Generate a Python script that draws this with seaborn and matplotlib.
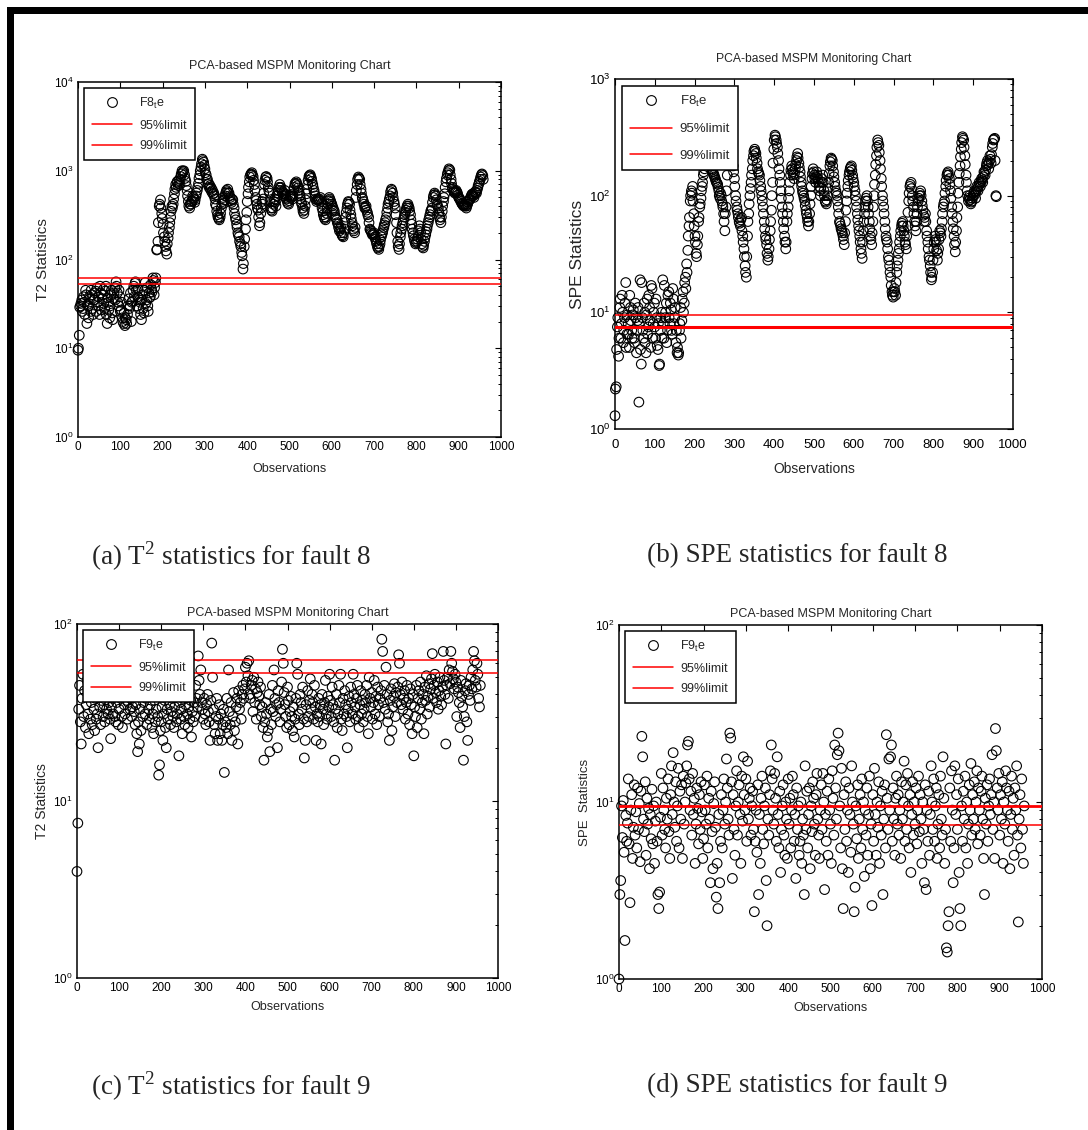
import numpy as np
import matplotlib
matplotlib.use("Agg")
import matplotlib.pyplot as plt
import seaborn as sns
from matplotlib.lines import Line2D
from matplotlib.patches import Rectangle
from matplotlib.ticker import LogLocator, LogFormatterMathtext, NullFormatter

# ---------------- data ----------------
obs_step_f8 = 3      # fault-8 lists: observations 0,3,6,...  (second list: 1,4,7,...)
obs_step_f9 = 2      # fault-9 lists: observations 0,2,4,...

t2_fault8 = [
    9.5, 14, 30, 35, 28, 33, 45, 19, 30, 38, 26, 40, 24, 35, 44, 48, 30, 24, 42, 36,
    46, 28, 50, 19, 33, 22, 40, 25, 36, 48, 56, 42, 30, 38, 27, 22, 19, 18, 21, 24,
    36, 30, 20, 34, 50, 54, 45, 38, 28, 33, 21, 40, 25, 55, 35, 30, 42, 38, 46, 62,
    40, 55, 128, 160, 400, 470, 330, 250, 180, 140, 115, 175, 230, 300, 400, 420, 550, 700, 740, 680,
    800, 860, 1000, 980, 900, 760, 600, 450, 380, 420, 460, 500, 440, 520, 600, 720, 900, 1100, 1350, 1250,
    1050, 900, 800, 720, 680, 640, 600, 560, 480, 400, 320, 290, 300, 380, 450, 430, 520, 600, 620, 560,
    500, 440, 470, 380, 300, 250, 200, 180, 150, 120, 78, 140, 220, 340, 550, 750, 900, 950, 860, 700,
    500, 420, 360, 240, 330, 450, 480, 700, 850, 820, 650, 560, 380, 350, 420, 480, 400, 520, 600, 700,
    650, 580, 520, 600, 500, 450, 420, 500, 540, 480, 600, 720, 750, 680, 600, 520, 440, 380, 330, 400,
    550, 700, 860, 900, 820, 700, 600, 520, 450, 480, 460, 500, 420, 350, 300, 280, 330, 420, 500, 460,
    420, 380, 350, 300, 280, 250, 210, 230, 190, 180, 220, 300, 380, 450, 420, 320, 260, 220, 200, 500,
    700, 850, 800, 620, 500, 450, 380, 400, 340, 300, 220, 210, 190, 200, 180, 160, 140, 130, 150, 180,
    200, 230, 260, 300, 380, 450, 520, 620, 560, 450, 380, 260, 160, 130, 180, 220, 260, 300, 340, 380,
    420, 380, 320, 250, 200, 170, 150, 160, 180, 240, 200, 150, 135, 160, 190, 220, 260, 300, 350, 380,
    500, 560, 520, 420, 380, 300, 260, 350, 450, 550, 750, 900, 1000, 1020, 800, 650, 600, 560, 600, 560,
    500, 480, 450, 420, 400, 420, 380, 420, 460, 480, 520, 550, 500, 580, 560, 640, 720, 800, 900, 880,
]

t2_fault8_b = [
    10, 29, 32, 26, 38, 24, 40, 31, 22, 36, 45, 28, 35, 42, 26, 33, 38, 50, 27, 40,
    32, 44, 24, 37, 27, 30, 45, 21, 42, 35, 50, 33, 45, 26, 33, 20, 25, 22, 19, 30,
    28, 42, 33, 45, 38, 56, 30, 46, 35, 24, 35, 28, 45, 32, 48, 26, 37, 52, 43, 58,
    48, 62, 130, 260, 420, 380, 290, 200, 160, 125, 150, 200, 260, 350, 380, 480, 620, 650, 760, 720,
    700, 920, 950, 1000, 820, 680, 520, 400, 420, 450, 520, 480, 470, 560, 650, 820, 1000, 1200, 1300, 1150,
    950, 800, 700, 650, 620, 580, 550, 520, 420, 350, 300, 280, 330, 420, 500, 470, 560, 580, 560, 520,
    460, 480, 420, 330, 280, 230, 190, 160, 140, 110, 90, 170, 280, 450, 650, 850, 920, 900, 780, 600,
    460, 380, 300, 260, 380, 420, 560, 780, 860, 750, 600, 450, 360, 380, 450, 440, 470, 560, 650, 640,
    600, 550, 560, 540, 480, 430, 460, 520, 500, 520, 650, 700, 720, 640, 560, 480, 420, 350, 360, 470,
    620, 780, 880, 860, 760, 650, 560, 480, 470, 470, 480, 450, 380, 320, 290, 300, 380, 460, 480, 440,
    400, 360, 320, 290, 260, 230, 220, 200, 185, 200, 260, 340, 420, 440, 360, 290, 240, 210, 230, 600,
    800, 820, 700, 560, 480, 420, 390, 360, 320, 260, 215, 200, 195, 190, 170, 150, 135, 140, 165, 190,
    215, 245, 280, 340, 420, 480, 580, 600, 500, 420, 320, 200, 140, 150, 200, 240, 280, 320, 360, 400,
    400, 350, 280, 220, 185, 160, 155, 170, 210, 220, 170, 140, 145, 175, 205, 240, 280, 320, 360, 440,
    530, 540, 470, 400, 340, 280, 300, 400, 500, 650, 820, 950, 1050, 900, 720, 620, 580, 580, 580, 530,
    490, 460, 430, 410, 410, 400, 400, 440, 470, 500, 540, 520, 540, 570, 600, 680, 760, 850, 920, 800,
]

spe_fault8 = [
    1.3, 2.3, 7.5, 4.2, 11, 6, 14, 5.5, 9, 18, 6.5, 8, 5, 11, 7, 9.5, 6, 12, 4.5, 8.5,
    1.7, 19, 3.6, 9, 6, 10, 4.5, 13, 7.5, 11, 5, 16, 8, 12, 6, 9, 4.8, 3.5, 7, 10,
    19, 6, 9, 12, 7, 15, 8, 10.5, 6.5, 13, 9, 5.5, 4.5, 4.3, 7, 11, 8.5, 15, 12, 20,
    26, 34, 55, 90, 110, 120, 70, 45, 32, 38, 60, 80, 95, 120, 150, 170, 200, 230, 250, 220,
    190, 170, 160, 150, 140, 130, 125, 110, 95, 100, 85, 70, 50, 80, 150, 220, 280, 300, 250, 180,
    140, 100, 80, 70, 60, 55, 65, 45, 35, 25, 20, 45, 70, 100, 130, 170, 220, 250, 230, 190,
    160, 150, 120, 100, 80, 60, 45, 38, 28, 35, 50, 75, 130, 250, 330, 300, 260, 200, 150, 110,
    80, 60, 45, 35, 60, 80, 110, 150, 180, 160, 140, 170, 200, 230, 190, 160, 130, 110, 100, 90,
    75, 65, 55, 70, 100, 140, 170, 150, 130, 160, 140, 120, 100, 130, 150, 110, 90, 85, 100, 130,
    180, 210, 200, 160, 130, 110, 100, 80, 60, 55, 50, 45, 38, 60, 90, 120, 150, 170, 180, 150,
    130, 110, 90, 70, 55, 45, 35, 29, 50, 70, 90, 100, 80, 60, 45, 38, 60, 100, 150, 220,
    300, 270, 200, 140, 100, 80, 60, 45, 40, 30, 25, 20, 15, 13.5, 16, 14, 22, 28, 35, 45,
    55, 60, 50, 40, 35, 55, 90, 120, 130, 100, 80, 60, 50, 70, 90, 100, 110, 90, 75, 60,
    70, 50, 40, 30, 25, 19, 22, 35, 45, 40, 28, 35, 50, 45, 60, 80, 90, 120, 150, 160,
    140, 110, 80, 60, 45, 33, 50, 80, 130, 180, 250, 320, 300, 220, 150, 110, 90, 100, 85, 90,
    100, 110, 95, 120, 110, 130, 120, 140, 130, 160, 150, 180, 200, 170, 220, 190, 260, 300, 310, 100,
]

spe_fault8_b = [
    2.2, 4.8, 9, 6, 13, 8, 10, 7, 12, 5, 9.5, 6.5, 14, 8.5, 6, 10.5, 5.5, 9, 7, 11,
    8, 4.8, 18, 7, 12, 5.5, 9.5, 6.5, 14, 8.5, 17, 6, 10, 7.5, 13, 5.2, 8, 3.6, 9, 6,
    8, 17, 10, 5.5, 14, 9, 12, 7, 16, 8, 11, 7, 5, 4.5, 8, 6, 13, 10, 18, 16,
    22, 45, 65, 100, 105, 90, 55, 40, 30, 45, 65, 85, 110, 130, 160, 190, 210, 240, 230, 200,
    180, 165, 155, 145, 135, 128, 118, 100, 105, 90, 80, 60, 70, 110, 180, 260, 290, 280, 210, 160,
    120, 90, 75, 65, 58, 62, 50, 40, 30, 22, 30, 60, 85, 115, 150, 200, 240, 240, 210, 170,
    155, 135, 110, 90, 70, 52, 42, 32, 30, 42, 60, 100, 190, 300, 320, 280, 230, 170, 130, 95,
    70, 52, 40, 40, 70, 95, 130, 165, 170, 150, 155, 185, 215, 210, 175, 145, 120, 105, 95, 82,
    70, 60, 60, 85, 120, 155, 160, 140, 145, 150, 130, 110, 115, 140, 130, 100, 88, 92, 115, 155,
    195, 205, 180, 145, 120, 105, 90, 70, 58, 52, 48, 42, 48, 75, 105, 135, 160, 175, 165, 140,
    120, 100, 80, 62, 50, 40, 32, 40, 60, 80, 95, 90, 70, 52, 42, 48, 80, 125, 185, 260,
    285, 235, 170, 120, 90, 70, 52, 42, 35, 28, 22, 17, 14, 15, 15, 18, 25, 32, 40, 50,
    58, 55, 45, 38, 45, 72, 105, 125, 115, 90, 70, 55, 60, 80, 95, 105, 100, 82, 68, 65,
    60, 45, 35, 28, 22, 20, 28, 40, 42, 34, 32, 42, 48, 52, 70, 85, 105, 135, 155, 150,
    125, 95, 70, 52, 38, 40, 65, 105, 155, 215, 285, 310, 260, 185, 130, 100, 95, 92, 88, 95,
    105, 102, 108, 115, 120, 125, 130, 135, 145, 155, 165, 190, 185, 195, 205, 225, 280, 305, 200, 98,
]

t2_fault9 = [
    4.0, 7.5, 33, 45, 28, 21, 38, 52, 30, 42, 26, 35, 48, 31, 24, 40, 29, 36, 27, 44,
    33, 25, 38, 29, 31, 20, 41, 34, 27, 37, 46, 30, 35, 28, 39, 33, 43, 31, 36, 29,
    22.5, 34, 38, 31, 44, 30, 28, 36, 40, 27, 33, 45, 38, 30, 26, 42, 35, 31, 48, 37,
    29, 36, 41, 33, 38, 30, 34, 44, 32, 27, 35, 24, 19, 28, 21, 33, 25, 40, 30, 36,
    43, 31, 38, 27, 46, 33, 29, 35, 40, 26, 31, 24, 37, 28, 33, 42, 30, 14, 16, 25,
    28, 34, 22, 31, 37, 26, 20, 33, 29, 41, 35, 27, 32, 38, 30, 26, 34, 39, 28, 31,
    44, 18, 36, 29, 33, 24, 38, 30, 27, 35, 42, 31, 26, 34, 29, 37, 23, 32, 28, 36,
    30, 45, 38, 34, 66, 48, 40, 55, 36, 33, 29, 38, 31, 27, 35, 40, 32, 28, 22, 37,
    78, 50, 33, 27, 24, 30, 38, 22, 29, 35, 24, 31, 22, 27, 33, 14.5, 28, 26, 38, 24,
    55, 32, 27, 36, 22, 30, 41, 25, 28, 34, 38, 21, 42, 33, 36, 29, 40, 45, 38, 43,
    57, 47, 60, 51, 62, 40, 38, 45, 48, 32, 50, 36, 43, 29, 41, 47, 39, 35, 44, 30,
    34, 26, 17, 28, 36, 31, 23, 25, 40, 19, 33, 27, 45, 32, 55, 38, 30, 35, 20, 42,
    36, 28, 33, 47, 72, 60, 41, 35, 30, 26, 44, 37, 27, 32, 39, 30, 25, 34, 23, 29,
    38, 60, 52, 31, 27, 40, 36, 33, 44, 29, 17.5, 22, 35, 28, 42, 30, 37, 49, 33, 40,
    36, 29, 45, 34, 22, 31, 28, 38, 30, 35, 21, 40, 33, 27, 36, 48, 31, 29, 39, 34,
    52, 37, 30, 44, 35, 28, 17, 33, 40, 26, 31, 45, 36, 52, 29, 25, 38, 31, 42, 35,
    30, 20, 33, 39, 28, 44, 36, 31, 52, 40, 34, 29, 38, 45, 30, 26, 35, 42, 31, 37,
    28, 33, 40, 36, 45, 30, 24, 50, 38, 34, 41, 29, 36, 48, 31, 39, 27, 44, 35, 30,
    38, 42, 82, 70, 36, 45, 33, 57, 40, 28, 31, 22, 37, 43, 25, 34, 39, 46, 30, 41,
    36, 44, 67, 60, 40, 35, 47, 33, 38, 42, 29, 36, 45, 31, 38, 27, 43, 35, 24, 40,
    18, 34, 30, 45, 26, 38, 42, 33, 47, 29, 36, 40, 24, 44, 37, 51, 31, 39, 46, 34,
    43, 49, 68, 38, 45, 52, 41, 36, 47, 33, 42, 50, 39, 35, 44, 70, 48, 40, 21, 45,
    50, 38, 55, 46, 70, 60, 54, 49, 43, 52, 47, 30, 44, 41, 36, 26, 48, 39, 34, 17,
    30, 42, 46, 28, 22, 40, 45, 37, 50, 43, 55, 70, 62, 48, 44, 60, 52, 38, 34, 45,
]

spe_fault9 = [
    1.0, 3.0, 3.6, 9.5, 6.3, 10.2, 5.2, 1.65, 8.4, 6.0, 7.6, 13.5, 5.8, 2.7, 9.0, 11.0, 4.8, 7.2, 12.5, 6.5,
    8.8, 5.5, 12.0, 7.0, 9.8, 4.6, 11.5, 23.5, 18.0, 8.0, 6.8, 13.0, 5.0, 10.5, 7.5, 9.2, 4.2, 8.5, 6.2, 11.8,
    5.8, 9.5, 4.5, 7.8, 10.0, 6.0, 3.0, 2.5, 3.1, 8.2, 14.5, 6.5, 12.0, 9.0, 7.0, 5.5, 10.5, 8.0, 13.5, 6.8,
    4.8, 11.0, 16.0, 8.5, 19.0, 10.0, 7.2, 13.0, 6.0, 9.5, 15.5, 5.5, 11.5, 8.0, 12.5, 4.8, 14.0, 7.5, 10.0, 12.8,
    16.0, 21.0, 22.0, 13.5, 9.0, 11.5, 6.5, 14.5, 8.5, 10.5, 4.5, 7.5, 12.0, 9.2, 5.8, 11.0, 7.0, 13.0, 8.8, 4.8,
    6.2, 12.5, 9.0, 7.5, 14.0, 5.5, 10.5, 8.0, 3.5, 11.5, 6.8, 4.2, 9.8, 13.0, 7.2, 2.9, 4.5, 2.5, 8.5, 3.5,
    6.0, 11.0, 5.5, 9.0, 13.5, 7.5, 10.0, 17.5, 12.0, 8.0, 6.5, 24.5, 23.0, 13.0, 3.7, 11.0, 7.0, 5.0, 9.5, 15.0,
    6.5, 10.0, 12.5, 8.5, 4.5, 14.0, 7.8, 18.0, 11.0, 9.0, 13.5, 6.0, 17.0, 8.0, 10.5, 12.0, 6.5, 9.5, 11.5, 7.0,
    2.4, 6.0, 9.0, 5.2, 12.5, 3.0, 8.5, 4.5, 10.5, 14.0, 7.0, 5.8, 9.5, 12.0, 3.6, 2.0, 8.0, 6.5, 11.0, 15.0,
    21.0, 13.5, 9.0, 7.5, 14.5, 10.5, 6.0, 18.0, 8.5, 5.5, 11.5, 4.0, 7.0, 9.5, 12.5, 6.5, 5.0, 10.0, 8.0, 4.8,
    13.5, 7.5, 10.5, 5.5, 9.0, 14.0, 11.0, 6.0, 8.5, 3.7, 12.0, 7.0, 9.5, 5.0, 6.0, 10.0, 4.5, 8.0, 6.5, 3.0,
    16.0, 7.0, 11.5, 5.5, 8.5, 12.0, 4.2, 9.5, 6.8, 13.0, 10.5, 7.5, 5.0, 11.0, 14.5, 8.0, 6.5, 4.8, 9.0, 12.5,
    7.0, 14.5, 10.0, 3.2, 8.5, 6.0, 11.5, 5.0, 13.5, 9.0, 7.5, 4.5, 15.0, 10.5, 6.5, 21.0, 12.0, 8.0, 18.5, 24.5,
    19.5, 9.5, 5.5, 15.5, 4.2, 2.5, 11.0, 7.0, 13.0, 6.0, 9.0, 4.0, 12.0, 8.5, 5.2, 16.0, 10.0, 7.5, 2.4, 3.3,
    9.5, 6.2, 12.5, 4.8, 8.0, 11.0, 5.5, 13.5, 7.0, 10.0, 3.8, 9.0, 6.5, 12.0, 5.0, 8.5, 14.0, 4.2, 7.5, 2.6,
    11.0, 6.0, 15.5, 8.5, 5.0, 10.0, 7.2, 13.0, 4.5, 9.5, 6.5, 11.5, 3.0, 8.0, 12.5, 5.5, 24.0, 10.5, 7.0, 17.5,
    9.0, 18.0, 21.0, 6.0, 12.0, 8.0, 5.0, 10.5, 14.0, 7.5, 11.0, 6.5, 9.0, 4.8, 13.0, 8.0, 10.0, 17.0, 6.0, 12.5,
    7.0, 14.5, 9.5, 5.5, 11.0, 4.0, 8.5, 13.0, 6.5, 10.0, 7.5, 12.0, 5.8, 9.0, 14.0, 6.8, 11.0, 8.0, 4.5, 10.0,
    7.0, 3.5, 12.5, 3.2, 9.0, 6.0, 11.5, 5.0, 8.5, 16.0, 10.0, 7.0, 13.5, 6.0, 9.5, 12.0, 4.8, 7.5, 11.0, 5.5,
    14.0, 8.0, 6.5, 18.0, 10.5, 4.5, 7.0, 1.5, 1.42, 2.0, 2.4, 12.0, 6.0, 15.0, 9.0, 3.5, 5.5, 16.0, 8.5, 11.0,
    7.0, 13.5, 4.0, 2.5, 2.0, 9.5, 6.0, 11.5, 8.0, 14.0, 5.5, 10.0, 4.5, 7.5, 12.5, 9.0, 16.5, 6.5, 11.0, 8.0,
    13.0, 7.0, 10.0, 15.0, 5.8, 12.0, 9.0, 6.5, 11.5, 14.0, 8.0, 4.8, 3.0, 10.5, 7.5, 12.5, 6.0, 9.5, 13.5, 8.5,
    11.0, 18.5, 7.0, 10.0, 4.8, 26.0, 19.5, 12.0, 9.0, 14.5, 6.5, 11.0, 8.0, 13.0, 4.5, 10.0, 7.5, 15.0, 12.0, 9.0,
    6.0, 11.5, 4.2, 8.5, 14.0, 7.0, 10.5, 5.0, 12.0, 9.0, 16.0, 6.5, 2.1, 8.0, 11.0, 5.5, 13.5, 7.0, 4.5, 9.5,
]

limits_t2_f8 = [53.5, 62.0]     # 95%, 99%
limits_spe_f8 = [7.5, 9.4]
limits_t2_f9 = [53.0, 62.5]
limits_spe_f9 = [7.4, 9.45]

x_ticks = [0, 100, 200, 300, 400, 500, 600, 700, 800, 900, 1000]
legend_names = ["95%limit", "99%limit"]
chart_title = "PCA-based MSPM Monitoring Chart"
captions = ["(a) T$^\\mathregular{2}$ statistics for fault 8",
            "(b) SPE statistics for fault 8",
            "(c) T$^\\mathregular{2}$ statistics for fault 9",
            "(d) SPE statistics for fault 9"]

# ---------------- styling ----------------
sns.set_style("white")
plt.rcParams["font.family"] = ["Liberation Sans", "DejaVu Sans"]
plt.rcParams["mathtext.fontset"] = "custom"
plt.rcParams["mathtext.rm"] = "Liberation Sans"
plt.rcParams["mathtext.it"] = "Liberation Sans:italic"
plt.rcParams["mathtext.bf"] = "Liberation Sans:bold"

W, H = 1088, 1130
fig = plt.figure(figsize=(W / 100, H / 100), dpi=100)
fig.patch.set_facecolor("white")


def fpos(l, t, r, b):
    return [l / W, 1 - b / H, (r - l) / W, (b - t) / H]


def series(step, *lists):
    xs, ys = [], []
    for k, lst in enumerate(lists):
        v = np.asarray(lst, dtype=float)
        xs.append(np.arange(len(v)) * step + k)
        ys.append(v)
    return np.concatenate(xs), np.concatenate(ys)


panels = [
    dict(pos=fpos(78, 82, 501, 437), data=series(obs_step_f8, t2_fault8, t2_fault8_b), ylim=(1, 1e4),
         lims=limits_t2_f8, lws=(1.1, 1.1), ylabel="T2 Statistics", leg="F8$_\\mathregular{t}$e",
         fs=8.5, tfs=9, yfs=11, tpad=9, xpad=7, tickpad=3, legfs=9, legsp=0.7),
    dict(pos=fpos(615, 79, 1013, 429), data=series(obs_step_f8, spe_fault8, spe_fault8_b), ylim=(1, 1e3),
         lims=limits_spe_f8, lws=(2.2, 1.1), ylabel="SPE Statistics", leg="F8$_\\mathregular{t}$e",
         fs=9.5, tfs=8.7, yfs=12.5, tpad=12, xpad=8, tickpad=7, legfs=9.5, legsp=1.1),
    dict(pos=fpos(77, 624, 498, 978), data=series(obs_step_f9, t2_fault9), ylim=(1, 1e2),
         lims=limits_t2_f9, lws=(1.1, 1.1), ylabel="T2 Statistics", leg="F9$_\\mathregular{t}$e",
         fs=8.5, tfs=9, yfs=10, tpad=6, xpad=5, tickpad=3, legfs=9, legsp=0.7),
    dict(pos=fpos(619, 625, 1042, 979), data=series(obs_step_f9, spe_fault9), ylim=(1, 1e2),
         lims=limits_spe_f9, lws=(1.1, 2.0), ylabel="SPE  Statistics", leg="F9$_\\mathregular{t}$e",
         fs=8.5, tfs=9, yfs=9.5, tpad=6, xpad=5, tickpad=3, legfs=9, legsp=0.7),
]

for p in panels:
    ax = fig.add_axes(p["pos"])
    obs, vals = p["data"]
    sns.scatterplot(x=obs, y=vals, ax=ax, marker="o", s=48, facecolors="none",
                    edgecolor="black", linewidth=0.8, legend=False, clip_on=False, zorder=2)
    for v, lw in zip(p["lims"], p["lws"]):
        ax.axhline(v, color="red", lw=lw, zorder=3)
    ax.set_yscale("log")
    ax.set_ylim(*p["ylim"])
    ax.set_xlim(0, 1000)
    ax.set_xticks(x_ticks)
    ax.yaxis.set_major_locator(LogLocator(base=10, numticks=10))
    ax.yaxis.set_major_formatter(LogFormatterMathtext())
    ax.yaxis.set_minor_locator(LogLocator(base=10, subs=np.arange(2, 10), numticks=20))
    ax.yaxis.set_minor_formatter(NullFormatter())
    ax.tick_params(which="both", direction="in", top=True, right=True, labelsize=p["fs"],
                   colors="black")
    ax.tick_params(axis="x", pad=p["tickpad"])
    ax.tick_params(axis="y", pad=3)
    ax.tick_params(which="major", length=4, width=0.8)
    ax.tick_params(which="minor", length=2.5, width=0.7)
    for s in ax.spines.values():
        s.set_color("black")
        s.set_linewidth(1.1)
    ax.set_title(chart_title, fontsize=p["tfs"], pad=p["tpad"])
    ax.set_xlabel("Observations", fontsize=p["fs"] + 0.5, labelpad=p["xpad"])
    ax.set_ylabel(p["ylabel"], fontsize=p["yfs"], labelpad=3)
    handles = [Line2D([], [], marker="o", ls="none", mfc="none", mec="black", ms=7, mew=0.8),
               Line2D([], [], color="red", lw=1.1),
               Line2D([], [], color="red", lw=1.1)]
    leg = ax.legend(handles, [p["leg"]] + legend_names, loc="upper left", frameon=True,
                    fancybox=False, framealpha=1, edgecolor="black", fontsize=p["legfs"],
                    handlelength=3.2, labelspacing=p["legsp"], borderpad=0.6, borderaxespad=0.5,
                    handletextpad=0.6)
    leg.get_frame().set_linewidth(1.1)
    leg.set_zorder(10)

cap_pos = [(231, 556), (797, 556), (231, 1086), (797, 1086)]
for (cx, cy), txt in zip(cap_pos, captions):
    fig.text(cx / W, 1 - cy / H, txt, ha="center", va="center", fontsize=19.5,
             family=["Liberation Serif", "DejaVu Serif"])

# black frame bars (top and left) as in the reference page
fig.add_artist(Rectangle((7 / W, 1 - 14 / H), 1 - 7 / W, 7 / H, transform=fig.transFigure,
                         facecolor="black", edgecolor="none"))
fig.add_artist(Rectangle((7 / W, 0), 7 / W, 1 - 7 / H, transform=fig.transFigure,
                         facecolor="black", edgecolor="none"))

fig.savefig("out.png", dpi=100, facecolor="white")
